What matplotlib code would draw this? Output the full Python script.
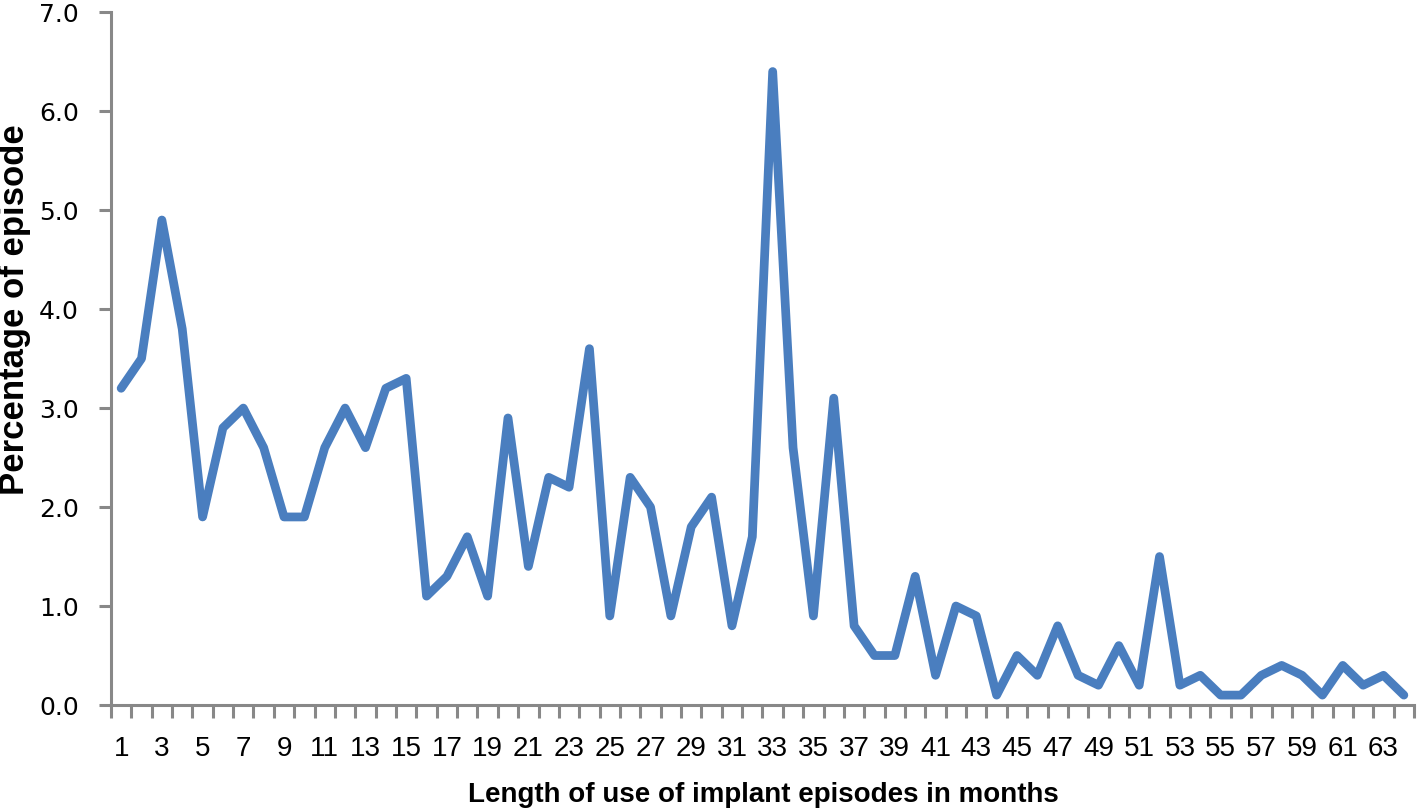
import matplotlib
matplotlib.use('Agg')
import matplotlib.pyplot as plt

months = list(range(1, 65))
percent = [3.2, 3.5, 4.9, 3.8, 1.9, 2.8, 3.0, 2.6, 1.9, 1.9,
           2.6, 3.0, 2.6, 3.2, 3.3, 1.1, 1.3, 1.7, 1.1, 2.9,
           1.4, 2.3, 2.2, 3.6, 0.9, 2.3, 2.0, 0.9, 1.8, 2.1,
           0.8, 1.7, 6.4, 2.6, 0.9, 3.1, 0.8, 0.5, 0.5, 1.3,
           0.3, 1.0, 0.9, 0.1, 0.5, 0.3, 0.8, 0.3, 0.2, 0.6,
           0.2, 1.5, 0.2, 0.3, 0.1, 0.1, 0.3, 0.4, 0.3, 0.1,
           0.4, 0.2, 0.3, 0.1]
y_ticks = [0, 1, 2, 3, 4, 5, 6, 7]

plt.rcParams['font.family'] = ['Liberation Sans', 'DejaVu Sans']

fig = plt.figure(figsize=(14.19, 8.11), dpi=100)
ax = fig.add_axes([0.0782, 0.1307, 0.9183, 0.8543])

ax.plot(months, percent, color='#4A7EBF', linewidth=6.3,
        solid_joinstyle='round', solid_capstyle='round')

ax.set_xlim(0.5, 64.5)
ax.set_ylim(0, 7)

grey = '#888888'
for s in ['top', 'right']:
    ax.spines[s].set_visible(False)
for s in ['left', 'bottom']:
    ax.spines[s].set_color(grey)
    ax.spines[s].set_linewidth(2.2)

# y axis
ax.set_yticks(y_ticks)
ax.set_yticklabels([f"{v:.1f}" for v in y_ticks], fontsize=18, family='DejaVu Sans')
ax.tick_params(axis='y', length=9, width=2.2, color=grey, pad=14)

# x axis: labels on odd months, tick marks between categories
odd = months[::2]
ax.set_xticks(odd)
ax.set_xticklabels([str(m) for m in odd], fontsize=20)
ax.tick_params(axis='x', which='major', length=0, pad=22)
ax.set_xticks([m + 0.5 for m in [0] + months], minor=True)
ax.tick_params(axis='x', which='minor', length=9, width=2.2, color=grey)

fig.text(763 / 1419, 1 - 795 / 811, "Length of use of implant episodes in months",
         fontsize=20, fontweight='bold', ha='center', va='center')
fig.text(15 / 1419, 1 - 310 / 811, "Percentage of episode", rotation=90,
         fontsize=25, fontweight='bold', ha='center', va='center')

fig.savefig('out.png', dpi=100)
